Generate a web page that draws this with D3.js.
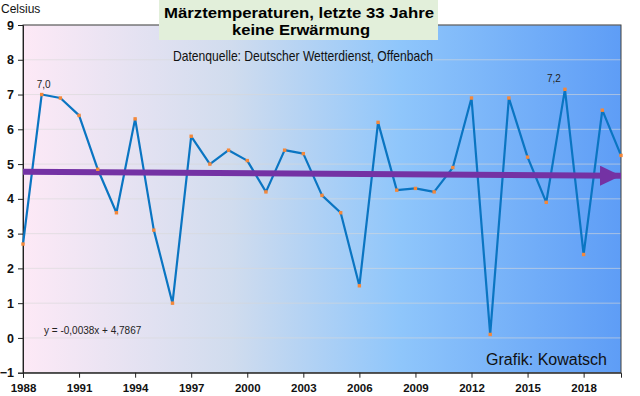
<!DOCTYPE html>
<html><head><meta charset="utf-8">
<script src="https://cdn.jsdelivr.net/npm/d3@7"></script>
<style>html,body{margin:0;padding:0;background:#fff;}svg{display:block;font-family:"Liberation Sans",Arial,sans-serif;}</style>
</head><body>
<svg id="c" width="640" height="396"></svg>
<script>
const years = [1988,1989,1990,1991,1992,1993,1994,1995,1996,1997,1998,1999,2000,2001,2002,2003,2004,2005,2006,2007,2008,2009,2010,2011,2012,2013,2014,2015,2016,2017,2018,2019,2020];
const temps = [2.7,7.0,6.9,6.4,4.85,3.6,6.3,3.1,1.0,5.8,5.0,5.4,5.1,4.2,5.4,5.3,4.1,3.6,1.5,6.2,4.25,4.3,4.2,4.9,6.9,0.1,6.9,5.2,3.9,7.15,2.4,6.55,5.25];
const xTicks = [1988,1991,1994,1997,2000,2003,2006,2009,2012,2015,2018];
const yTicks = [-1,0,1,2,3,4,5,6,7,8,9];
const trendSlope = -0.0038, trendIntercept = 4.7867;
const pointLabels = [{year:1989, text:"7,0"},{year:2017, text:"7,2"}];
const titleLines = ["Märztemperaturen, letzte 33 Jahre","keine Erwärmung"];
const subtitle = "Datenquelle: Deutscher Wetterdienst, Offenbach";
const equation = "y = -0,0038x + 4,7867";
const credit = "Grafik: Kowatsch";
const yUnit = "Celsius";

const svg = d3.select("#c");
const L=23, R=621, T=25, B=372.7;
const x = d3.scaleLinear().domain([1988,2020]).range([L,R]);
const y = d3.scaleLinear().domain([-1,9]).range([B,T]);

const defs = svg.append("defs");
const g = defs.append("linearGradient").attr("id","bg").attr("x1","0").attr("x2","1").attr("y1","0").attr("y2","0");
[[0,"#fde9f6"],[0.35,"#d0dcee"],[0.63,"#8fc6fb"],[1,"#5e9df6"]].forEach(s=>g.append("stop").attr("offset",s[0]).attr("stop-color",s[1]));
defs.append("marker").attr("id","ah").attr("markerUnits","userSpaceOnUse")
  .attr("markerWidth",22).attr("markerHeight",20).attr("refX",21).attr("refY",10).attr("orient","auto")
  .append("path").attr("d","M0,0 L21,10 L0,20 Z").attr("fill","#7432a4");

svg.append("rect").attr("x",L).attr("y",T).attr("width",R-L).attr("height",B-T).attr("fill","url(#bg)");

// gridlines
svg.append("g").selectAll("line").data(yTicks).join("line")
  .attr("x1",L).attr("x2",R).attr("y1",d=>y(d)).attr("y2",d=>y(d))
  .attr("stroke","#d9d9d9").attr("stroke-opacity",0.6).attr("stroke-width",1);

// border
svg.append("rect").attr("x",L).attr("y",T).attr("width",R-L).attr("height",B-T).attr("fill","none").attr("stroke","#404040").attr("stroke-width",1);

// axes
const yAxis = d3.axisLeft(y).tickValues(yTicks).tickSize(5).tickPadding(4).tickFormat(d3.format("d"));
const ya = svg.append("g").attr("transform",`translate(${L},0)`).call(yAxis);
ya.select(".domain").attr("stroke","#222");
ya.selectAll("line").attr("stroke","#222");
ya.selectAll("text").attr("font-size","12.5px").attr("font-weight","bold").attr("fill","#111").attr("font-family","Liberation Sans, Arial, sans-serif").attr("dy","0.33em");

const xAxis = d3.axisBottom(x).tickValues(xTicks).tickSize(5).tickPadding(6).tickFormat(d3.format("d"));
const xa = svg.append("g").attr("transform",`translate(0,${B})`).call(xAxis);
xa.select(".domain").attr("stroke","#222");
xa.selectAll("line").attr("stroke","#222");
xa.selectAll("text").attr("font-size","11.5px").attr("font-weight","bold").attr("fill","#111").attr("font-family","Liberation Sans, Arial, sans-serif");

// data line
const line = d3.line().x((d,i)=>x(years[i])).y(d=>y(d));
svg.append("path").datum(temps).attr("d",line).attr("fill","none").attr("stroke","#0a75c2").attr("stroke-width",2.2).attr("stroke-linejoin","round");

// trend arrow
const tr = [years[0], years[years.length-1]].map(yr=>[x(yr), y(trendSlope*(yr-years[0]+1)+trendIntercept)]);
svg.append("path").attr("d",d3.line()(tr)).attr("stroke","#7432a4").attr("stroke-width",6).attr("fill","none").attr("marker-end","url(#ah)");

// markers
svg.append("g").selectAll("rect").data(temps).join("rect")
  .attr("x",(d,i)=>x(years[i])-1.7).attr("y",d=>y(d)-1.7).attr("width",3.4).attr("height",3.4).attr("fill","#f5883a");

// point labels
svg.append("g").selectAll("text").data(pointLabels).join("text")
  .attr("x",d=>d.year===2017 ? x(d.year)-11 : x(d.year)+2)
  .attr("y",d=>y(temps[years.indexOf(d.year)])-7)
  .attr("text-anchor","middle").attr("font-size","10px").attr("fill","#222").text(d=>d.text);

// equation
svg.append("text").attr("x",44).attr("y",334).attr("font-size","10px").attr("fill","#222").text(equation);
// credit
svg.append("text").attr("x",607).attr("y",365).attr("text-anchor","end").attr("font-size","16px").attr("fill","#111").text(credit);

// title box
svg.append("rect").attr("x",159).attr("y",0).attr("width",279).attr("height",40).attr("fill","#e2efda");
svg.append("text").attr("x",164).attr("y",17.5).attr("font-size","15px").attr("font-weight","bold").attr("fill","#000")
  .attr("textLength",270).attr("lengthAdjust","spacingAndGlyphs").text(titleLines[0]);
svg.append("text").attr("x",232).attr("y",35).attr("font-size","15px").attr("font-weight","bold").attr("fill","#000")
  .attr("textLength",138).attr("lengthAdjust","spacingAndGlyphs").text(titleLines[1]);
svg.append("text").attr("x",173).attr("y",61).attr("font-size","14.5px").attr("fill","#111")
  .attr("textLength",260).attr("lengthAdjust","spacingAndGlyphs").text(subtitle);
svg.append("text").attr("x",1).attr("y",13).attr("font-size","12px").attr("fill","#111").text(yUnit);
</script>
</body></html>
